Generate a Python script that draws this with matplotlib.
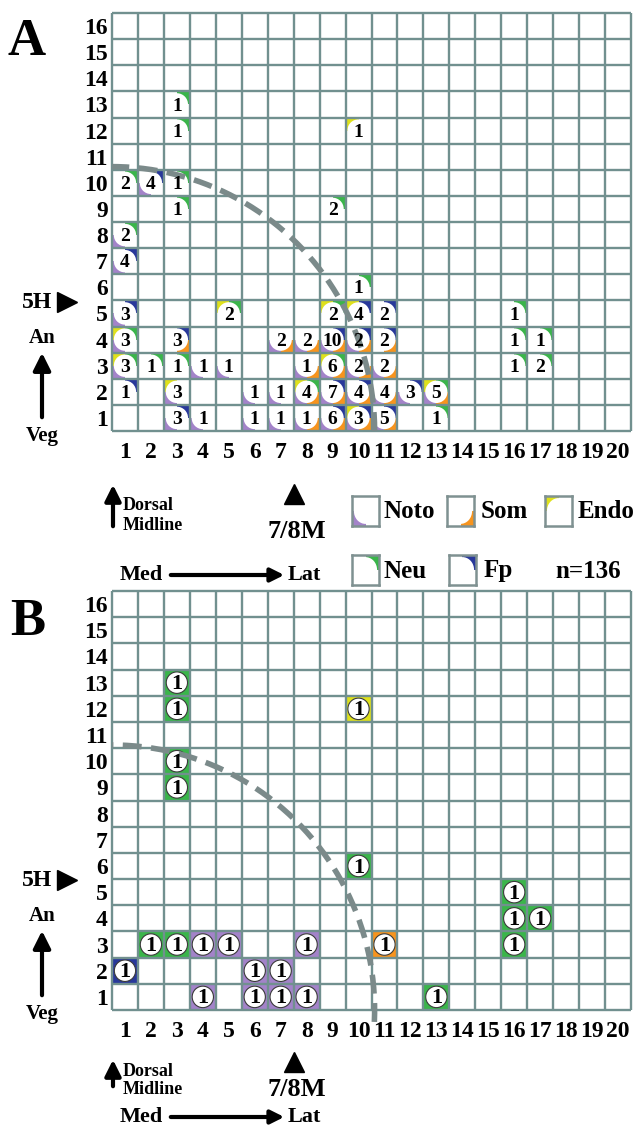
import numpy as np
import matplotlib
matplotlib.use('Agg')
import matplotlib.pyplot as plt
from matplotlib.patches import Rectangle, Circle, Ellipse

matplotlib.rcParams['font.family'] = ['Liberation Serif', 'DejaVu Serif']
matplotlib.rcParams['font.weight'] = 'bold'

W, H = 638, 1129

cols = list(range(1, 21))
rows = list(range(1, 17))

# panel A: one entry per labelled cell
# fates: N=Noto, S=Som, E=Endo, U=Neu, F=Fp
a_col = [3,
         3, 10,
         1, 2, 3,
         3, 9,
         1,
         1,
         10,
         1, 5, 9, 10, 11, 16,
         1, 3, 7, 8, 9, 10, 11, 16, 17,
         1, 2, 3, 4, 5, 8, 9, 10, 11, 16, 17,
         1, 3, 6, 7, 8, 9, 10, 11, 12, 13,
         3, 4, 6, 7, 8, 9, 10, 11, 13]
a_row = [13,
         12, 12,
         10, 10, 10,
         9, 9,
         8,
         7,
         6,
         5, 5, 5, 5, 5, 5,
         4, 4, 4, 4, 4, 4, 4, 4, 4,
         3, 3, 3, 3, 3, 3, 3, 3, 3, 3, 3,
         2, 2, 2, 2, 2, 2, 2, 2, 2, 2,
         1, 1, 1, 1, 1, 1, 1, 1, 1]
a_count = [1,
           1, 1,
           2, 4, 1,
           1, 2,
           2,
           4,
           1,
           3, 2, 2, 4, 2, 1,
           3, 3, 2, 2, 10, 2, 2, 1, 1,
           3, 1, 1, 1, 1, 1, 6, 2, 2, 1, 2,
           1, 3, 1, 1, 4, 7, 4, 4, 3, 5,
           3, 1, 1, 1, 1, 6, 3, 5, 1]
a_fate = ['U',
          'U', 'E',
          'U', 'NF', 'U',
          'U', 'U',
          'NU',
          'NF',
          'U',
          'NF', 'EU', 'EU', 'EF', 'F', 'U',
          'EUN', 'FS', 'NS', 'NS', 'FNS', 'FNS', 'FS', 'U', 'U',
          'EUN', 'U', 'U', 'N', 'N', 'NS', 'EUNS', 'NS', 'NS', 'U', 'U',
          'F', 'EN', 'N', 'N', 'EUNS', 'FNS', 'FNS', 'NS', 'FN', 'EUNS',
          'FN', 'N', 'N', 'N', 'NS', 'FNS', 'EFNS', 'FNS', 'U']

# panel B: single clones
b_col = [3, 3, 10, 3, 3, 10, 16, 16, 17, 16, 2, 3, 4, 5, 8, 11, 1, 6, 7, 4, 6, 7, 8, 13]
b_row = [13, 12, 12, 10, 9, 6, 5, 4, 4, 3, 3, 3, 3, 3, 3, 3, 2, 2, 2, 1, 1, 1, 1, 1]
b_fate = ['U', 'U', 'E', 'U', 'U', 'U', 'U', 'U', 'U', 'U', 'U', 'U', 'N', 'N', 'N', 'S',
          'F', 'N', 'N', 'N', 'N', 'N', 'N', 'U']

legend_fates = ['N', 'S', 'E', 'U', 'F']
legend_names = ['Noto', 'Som', 'Endo', 'Neu', 'Fp']

arc_radius = 10.12

colors = {'N': '#a383c9', 'S': '#f7941e', 'E': '#dfe11c', 'U': '#3ab54a', 'F': '#28389a'}
# corner of the cell each fate sits in (dx, dy of the quadrant's lower-left)
quad = {'N': (-0.5, -0.5), 'S': (0.0, -0.5), 'E': (-0.5, 0.0), 'U': (0.0, 0.0), 'F': (0.0, 0.0)}
gridc = '#71908f'


def px_axes(x0, y0, x1, y1):
    return fig.add_axes([x0 / W, 1 - y1 / H, (x1 - x0) / W, (y1 - y0) / H])


def draw_corners(ax, x, y, fates, r=0.43):
    for f in fates:
        dx, dy = quad[f]
        ax.add_patch(Rectangle((x + dx, y + dy), 0.5, 0.5, color=colors[f], lw=0, zorder=1))
    ax.add_patch(Circle((x, y), r, color='white', lw=0, zorder=2))


def make_grid(ax):
    ax.set_xlim(0.5, 20.5)
    ax.set_ylim(0.5, 16.5)
    for s in ax.spines.values():
        s.set_visible(False)
    ax.vlines(np.arange(0.5, 21), 0.5, 16.5, color=gridc, lw=1.7, zorder=3, clip_on=False)
    ax.hlines(np.arange(0.5, 17), 0.5, 20.5, color=gridc, lw=1.7, zorder=3, clip_on=False)
    ax.set_xticks(cols)
    ax.set_xticklabels([str(c) for c in cols], fontsize=17)
    ax.set_yticks(rows)
    ax.set_yticklabels([str(r) for r in rows], fontsize=17)
    ax.tick_params(axis='x', length=0, pad=8)
    ax.tick_params(axis='y', length=0, pad=3)
    ax.patch.set_alpha(0)


def draw_arc(ax, t0):
    t = np.linspace(t0, np.pi / 2, 200)
    ax.plot(0.5 + arc_radius * np.cos(t), 0.5 + arc_radius * np.sin(t), color='#7b8a8a',
            lw=4.0, ls=(0, (3.4, 1.7)), zorder=4, clip_on=False)


def side_labels(ov, top):
    # 5H / An / Veg on the left of a grid whose top edge is at pixel "top"
    ov.text(37, top + 289, '5H', fontsize=17, ha='center', va='center')
    ov.plot([67], [top + 289], marker='>', ms=14, color='k')
    ov.text(42, top + 325, 'An', fontsize=15, ha='center', va='center')
    ov.annotate('', xy=(42, top + 337), xytext=(42, top + 407),
                arrowprops=dict(arrowstyle='-|>', lw=3.0, color='k', mutation_scale=26))
    ov.text(42, top + 423, 'Veg', fontsize=15, ha='center', va='center')


def bottom_labels(ov, y_arrow0, y_arrow1, y_dorsal, y_mid, y_tri, y_78, y_med):
    ov.annotate('', xy=(113, y_arrow1), xytext=(113, y_arrow0),
                arrowprops=dict(arrowstyle='-|>', lw=3.0, color='k', mutation_scale=24))
    ov.text(123, y_dorsal, 'Dorsal', fontsize=13, ha='left', va='center')
    ov.text(123, y_mid, 'Midline', fontsize=13, ha='left', va='center')
    ov.plot([294], [y_tri], marker='^', ms=15, color='k')
    ov.text(297, y_78, '7/8M', fontsize=19, ha='center', va='center')
    ov.text(120, y_med, 'Med', fontsize=16, ha='left', va='center')
    ov.annotate('', xy=(287, y_med), xytext=(168, y_med),
                arrowprops=dict(arrowstyle='-|>', lw=3.0, color='k', mutation_scale=20))
    ov.text(288, y_med, 'Lat', fontsize=16, ha='left', va='center')


fig = plt.figure(figsize=(W / 100, H / 100), dpi=100)
ov = fig.add_axes([0, 0, 1, 1])
ov.set_xlim(0, W)
ov.set_ylim(H, 0)
ov.axis('off')

# ---- panel A
axA = px_axes(112, 13, 631, 431)
make_grid(axA)
for c, r, n, f in zip(a_col, a_row, a_count, a_fate):
    draw_corners(axA, c, r, f)
    axA.text(c, r - 0.06, str(n), fontsize=14, ha='center', va='center', zorder=6)
draw_arc(axA, 0.0)

ov.text(27, 42, 'A', fontsize=38, ha='center', va='center')
side_labels(ov, 13)
bottom_labels(ov, 529, 482, 505, 526, 494, 531, 575)

# legend
box_x = [352, 447, 545, 352, 449]
box_y = [496, 496, 496, 555, 555]
txt_x = [384, 481, 578, 384, 484]
for f, name, bx, by, tx in zip(legend_fates, legend_names, box_x, box_y, txt_x):
    lax = px_axes(bx, by, bx + 27, by + 30)
    lax.set_xlim(0, 1)
    lax.set_ylim(0, 1)
    lax.set_xticks([])
    lax.set_yticks([])
    dx, dy = quad[f]
    lax.add_patch(Rectangle((0.5 + dx, 0.5 + dy), 0.5, 0.5, color=colors[f], lw=0))
    lax.add_patch(Ellipse((0.5, 0.5), 0.86, 0.86, color='white', lw=0))
    for s in lax.spines.values():
        s.set_color('#7f9191')
        s.set_linewidth(1.8)
    ov.text(tx, by + 16, name, fontsize=18, ha='left', va='center')
ov.text(555, 572, 'n=136', fontsize=18, ha='left', va='center')

# ---- panel B
axB = px_axes(112, 591, 631, 1010)
make_grid(axB)
for c, r, f in zip(b_col, b_row, b_fate):
    axB.add_patch(Rectangle((c - 0.5, r - 0.5), 1, 1, color=colors[f], lw=0, zorder=1))
    axB.add_patch(Circle((c, r), 0.41, facecolor='white', edgecolor='#3a3a3a', lw=0.8, zorder=2))
    axB.text(c, r - 0.06, '1', fontsize=16, ha='center', va='center', zorder=6)
draw_arc(axB, -0.045)

ov.text(28, 622, 'B', fontsize=38, ha='center', va='center')
side_labels(ov, 591)
bottom_labels(ov, 1089, 1057, 1072, 1089, 1062, 1090, 1117)

fig.savefig('out.png', dpi=100)
